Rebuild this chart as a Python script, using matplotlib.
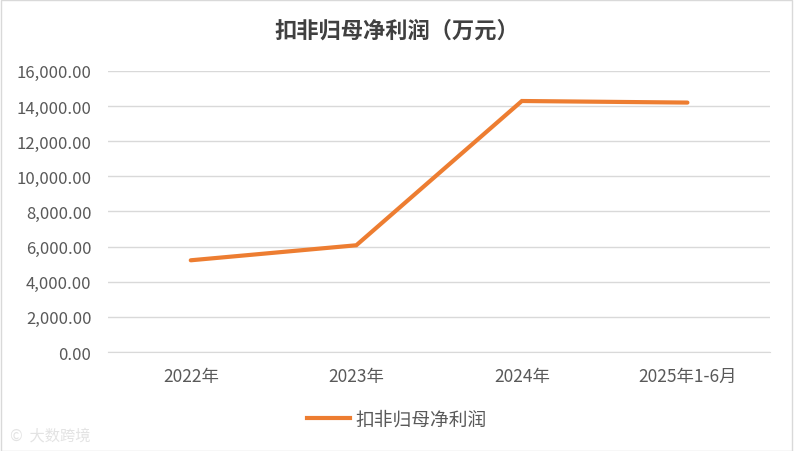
import matplotlib
matplotlib.use("Agg")
import matplotlib.pyplot as plt
from matplotlib.ticker import FuncFormatter, MultipleLocator
from matplotlib.lines import Line2D
from matplotlib.patches import Rectangle

plt.rcParams['font.family'] = ['Noto Sans CJK SC', 'DejaVu Sans']

categories = ["2022年", "2023年", "2024年", "2025年1-6月"]
values = [5220, 6075, 14285, 14195]
series_name = "扣非归母净利润"
title = "扣非归母净利润（万元）"

orange = "#ED7D31"
text_color = "#595959"

fig = plt.figure(figsize=(7.94, 4.52), dpi=100)
fig.patches.append(Rectangle((0.001, 0.001), 0.997, 0.997, transform=fig.transFigure,
                             fill=False, edgecolor="#D9D9D9", linewidth=1))
ax = fig.add_axes([0.136, 0.219, 0.834, 0.622])

x = range(len(categories))
ax.plot(x, values, color=orange, linewidth=3, solid_capstyle="round", solid_joinstyle="miter")

ax.set_xlim(-0.5, len(categories) - 0.5)
ax.set_ylim(0, 16000)
ax.yaxis.set_major_locator(MultipleLocator(2000))
ax.yaxis.set_major_formatter(FuncFormatter(lambda v, p: f"{v:,.2f}"))
ax.set_xticks(list(x))
ax.set_xticklabels(categories)
ax.grid(axis="y", color="#D9D9D9", linewidth=1)
ax.set_axisbelow(True)
for s in ["top", "right", "left"]:
    ax.spines[s].set_visible(False)
ax.spines["bottom"].set_color("#D9D9D9")
ax.tick_params(axis="y", length=0, labelsize=12, colors=text_color, pad=12)
ax.tick_params(axis="x", length=0, labelsize=12.5, colors=text_color, pad=11)

fig.text(0.5, 0.931, title, ha="center", va="center", fontsize=16, fontweight="bold", color="#404040")

handle = Line2D([], [], color=orange, linewidth=3)
fig.legend([handle], [series_name], loc="center", bbox_to_anchor=(0.5, 0.071), frameon=False,
           prop={"size": 13.5}, labelcolor=text_color, handlelength=2.3, handletextpad=0.3)

fig.text(0.012, 0.035, "©  大数跨境", fontsize=11, color="#E3E3E3", ha="left", va="center")

fig.savefig("out.png", dpi=100)
